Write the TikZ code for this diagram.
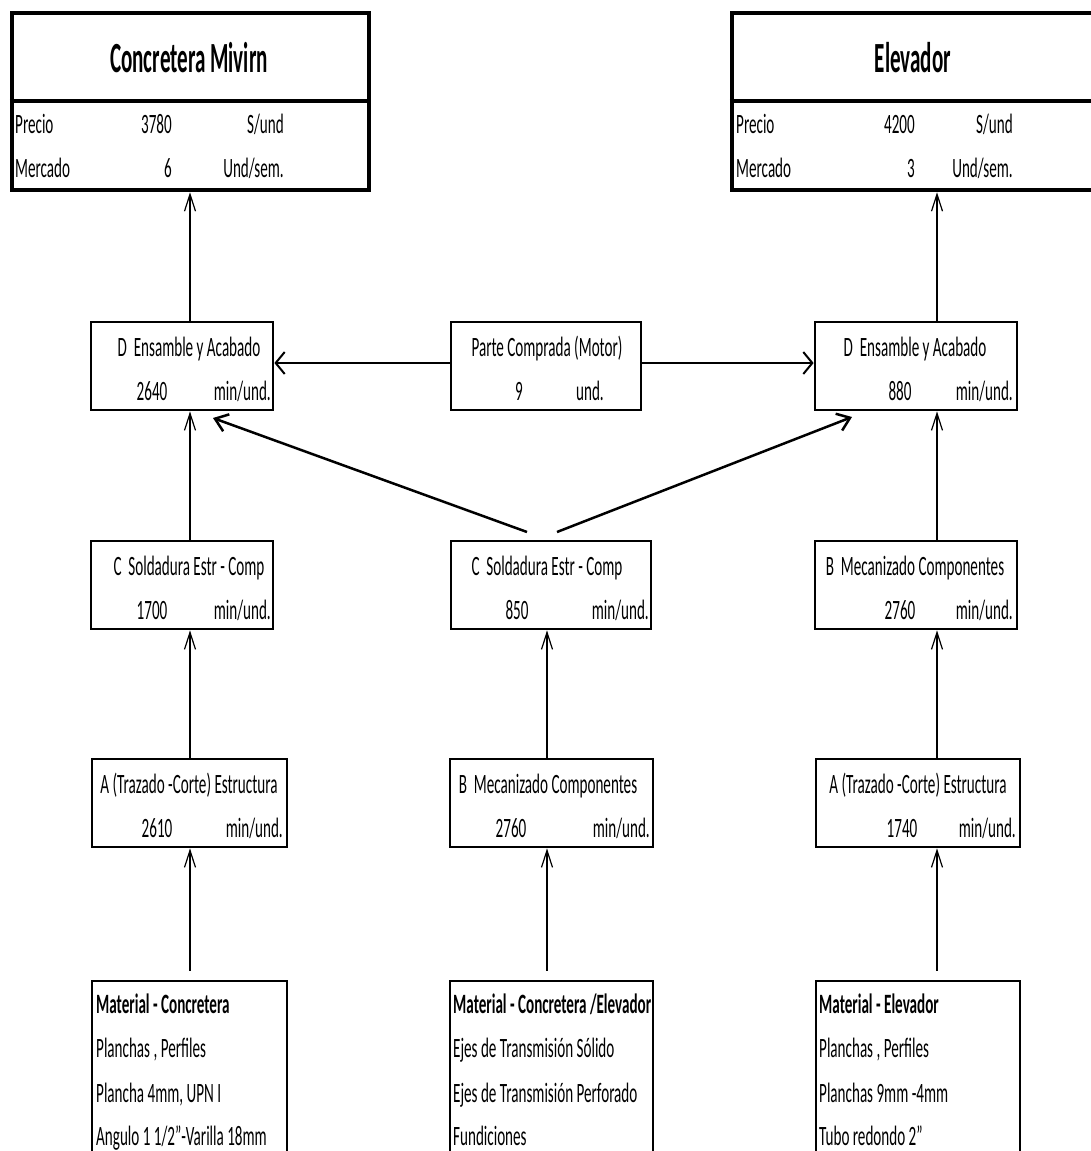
\documentclass[tikz,border=0pt]{standalone}
\usepackage{fontspec}
\setmainfont{Carlito}[FakeStretch=0.54]
\newfontfamily\titlefont{Carlito}[FakeStretch=0.49]
\usetikzlibrary{arrows.meta,calc}
\begin{document}
\begin{tikzpicture}[x=1pt,y=-1pt,
  box/.style={draw,line width=2.8pt,inner sep=0pt,rectangle},
  bigbox/.style={draw,line width=4.5pt,inner sep=0pt,rectangle},
  txt/.style={font=\fontsize{28}{32}\selectfont,inner sep=0pt,anchor=base},
  lft/.style={txt,anchor=base west},
  rgt/.style={txt,anchor=base east},
  ttl/.style={font=\titlefont\bfseries\fontsize{43}{48}\selectfont,inner sep=0pt,anchor=base},
  varr/.style={line width=1.2pt,-{Straight Barb[length=17pt,width=11pt]}},
  harr/.style={line width=2pt,-{Straight Barb[length=9pt,width=22pt]}},
  darr/.style={line width=2.5pt,-{Straight Barb[length=12pt,width=18pt]}}]
\path[use as bounding box] (0,0) rectangle (1091,1151);
\clip (0,0) rectangle (1091,1151);

% top boxes
\node[bigbox,minimum width=357pt,minimum height=177pt] (t1) at (190.5,101.5) {};
\node[bigbox,minimum width=368pt,minimum height=177pt] (t2) at (916,101.5) {};
\coordinate (dv) at (0,101);
\draw[line width=4.5pt] (t1.west |- dv) -- (t1.east |- dv);
\draw[line width=4.5pt] (t2.west |- dv) -- (t2.east |- dv);

\node[ttl] (t1t) at (189,72) {Concretera Mivirn};
\node[lft] (t1a) at (15,133) {Precio};
\node[rgt] (t1b) at (172,133) {3780};
\node[rgt] (t1c) at (284,133) {S/und};
\node[lft] (t1d) at (15,177) {Mercado};
\node[rgt] (t1e) at (172,177) {6};
\node[rgt] (t1f) at (284,177) {Und/sem.};

\node[ttl] (t2t) at (913,72) {Elevador};
\node[lft] (t2a) at (736,133) {Precio};
\node[rgt] (t2b) at (915,133) {4200};
\node[rgt] (t2c) at (1013,133) {S/und};
\node[lft] (t2d) at (736,177) {Mercado};
\node[rgt] (t2e) at (915,177) {3};
\node[rgt] (t2f) at (1013,177) {Und/sem.};

% row D
\node[box,minimum width=182pt,minimum height=88pt] (dl) at (182,366) {};
\node[box,minimum width=190pt,minimum height=88pt] (dm) at (546,366) {};
\node[box,minimum width=202pt,minimum height=88pt] (dr) at (916,366) {};
\node[txt] (dl1) at (189,356) {D\ \ Ensamble y Acabado};
\node[txt] (dl2) at (152,400) {2640};
\node[rgt] (dl3) at (271,400) {min/und.};
\node[txt] (dm1) at (547,356) {Parte Comprada (Motor)};
\node[txt] (dm2) at (519,400) {9};
\node[txt] (dm3) at (590,400) {und.};
\node[txt] (dr1) at (915,356) {D\ \ Ensamble y Acabado};
\node[txt] (dr2) at (900,400) {880};
\node[rgt] (dr3) at (1013,400) {min/und.};

% row C
\node[box,minimum width=182pt,minimum height=88pt] (cl) at (182,585) {};
\node[box,minimum width=200pt,minimum height=88pt] (cm) at (551,585) {};
\node[box,minimum width=202pt,minimum height=88pt] (br) at (916,585) {};
\node[txt] (cl1) at (189,575) {C\ \ Soldadura Estr - Comp};
\node[txt] (cl2) at (152,619) {1700};
\node[rgt] (cl3) at (271,619) {min/und.};
\node[txt] (cm1) at (547,575) {C\ \ Soldadura Estr - Comp};
\node[txt] (cm2) at (517,619) {850};
\node[rgt] (cm3) at (649,619) {min/und.};
\node[txt] (br1) at (915,575) {B\ \ Mecanizado Componentes};
\node[txt] (br2) at (900,619) {2760};
\node[rgt] (br3) at (1013,619) {min/und.};

% row A
\node[box,minimum width=195pt,minimum height=88pt] (al) at (189.5,803) {};
\node[box,minimum width=203pt,minimum height=88pt] (bm) at (551.5,803) {};
\node[box,minimum width=204pt,minimum height=88pt] (ar) at (918,803) {};
\node[txt] (al1) at (189,793) {A\ (Trazado -Corte) Estructura};
\node[txt] (al2) at (157,837) {2610};
\node[rgt] (al3) at (283,837) {min/und.};
\node[txt] (bm1) at (548,793) {B\ \ Mecanizado Componentes};
\node[txt] (bm2) at (511,837) {2760};
\node[rgt] (bm3) at (650,837) {min/und.};
\node[txt] (ar1) at (918,793) {A\ (Trazado -Corte) Estructura};
\node[txt] (ar2) at (902,837) {1740};
\node[rgt] (ar3) at (1016,837) {min/und.};

% materials
\node[box,minimum width=195pt,minimum height=189pt] (ml) at (189.5,1075.5) {};
\node[box,minimum width=203pt,minimum height=189pt] (mm) at (551.5,1075.5) {};
\node[box,minimum width=204pt,minimum height=189pt] (mr) at (918,1075.5) {};
\node[lft,font=\fontsize{28}{32}\selectfont\bfseries] (ml1) at (96,1013) {Material - Concretera};
\node[lft] (ml2) at (96,1057) {Planchas , Perfiles};
\node[lft] (ml3) at (96,1102) {Plancha 4mm, UPN I};
\node[lft] (ml4) at (96,1145) {Angulo 1 1/2"-Varilla 18mm};
\node[lft,font=\fontsize{28}{32}\selectfont\bfseries] (mm1) at (453,1013) {Material - Concretera /Elevador};
\node[lft] (mm2) at (453,1057) {Ejes de Transmisión Sólido};
\node[lft] (mm3) at (453,1102) {Ejes de Transmisión Perforado};
\node[lft] (mm4) at (453,1145) {Fundiciones};
\node[lft,font=\fontsize{28}{32}\selectfont\bfseries] (mr1) at (819,1013) {Material - Elevador};
\node[lft] (mr2) at (819,1057) {Planchas , Perfiles};
\node[lft] (mr3) at (819,1102) {Planchas 9mm -4mm};
\node[lft] (mr4) at (819,1145) {Tubo redondo 2"};

% connectors
\coordinate (xl) at (190,0);
\coordinate (xm) at (547,0);
\coordinate (xr) at (937,0);
\draw[varr] (dl.north -| xl) -- (t1.south -| xl);
\draw[varr] (cl.north -| xl) -- (dl.south -| xl);
\draw[varr] (al.north -| xl) -- (cl.south -| xl);
\draw[varr,shorten <=9pt] (ml.north -| xl) -- (al.south -| xl);
\draw[varr] (bm.north -| xm) -- (cm.south -| xm);
\draw[varr,shorten <=9pt] (mm.north -| xm) -- (bm.south -| xm);
\draw[varr] (dr.north -| xr) -- (t2.south -| xr);
\draw[varr] (br.north -| xr) -- (dr.south -| xr);
\draw[varr] (ar.north -| xr) -- (br.south -| xr);
\draw[varr,shorten <=9pt] (mr.north -| xr) -- (ar.south -| xr);
\draw[harr] ([yshift=3pt]dm.west) -- ([yshift=3pt]dl.east);
\draw[harr] ([yshift=3pt]dm.east) -- ([yshift=3pt]dr.west);
\coordinate (jl) at (527,532);
\coordinate (jr) at (557,532);
\coordinate (tl) at (213,418);
\coordinate (tr) at (852,417);
\draw[darr] (jl) -- (tl);
\draw[darr] (jr) -- (tr);
\end{tikzpicture}
\end{document}
